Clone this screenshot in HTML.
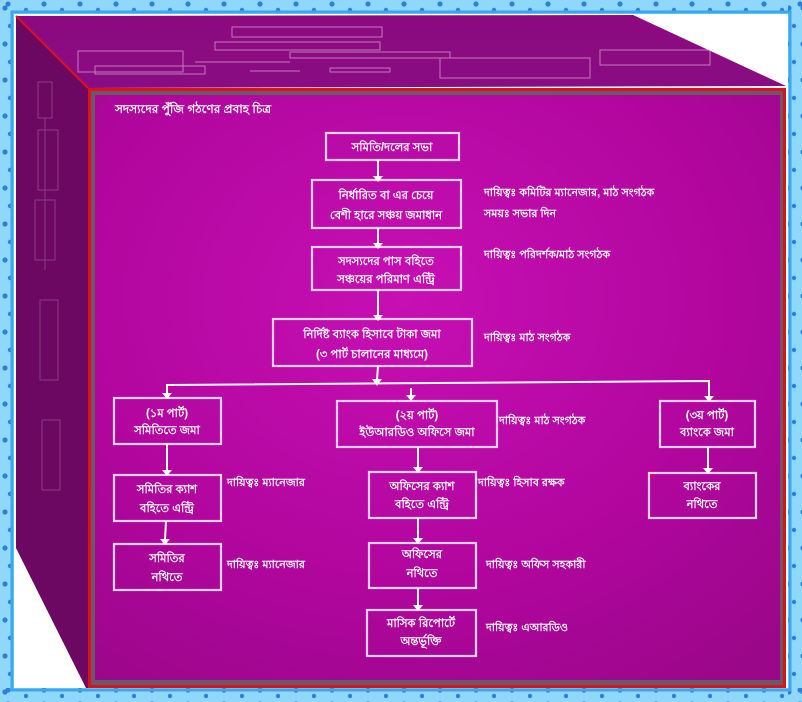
<!DOCTYPE html>
<html><head><meta charset="utf-8"><style>
html,body{margin:0;padding:0;background:#fff}
svg{display:block}
text{font-family:"Liberation Sans","DejaVu Sans",sans-serif;fill:#fff;font-weight:bold}
</style></head><body>
<svg width="802" height="702" viewBox="0 0 802 702" xmlns="http://www.w3.org/2000/svg">
<defs>
<pattern id="dots" width="36" height="14" patternUnits="userSpaceOnUse">
<circle cx="8" cy="4" r="2.6" fill="#2f7fd6"/><circle cx="26" cy="10" r="2.2" fill="#2f7fd6"/>
</pattern>
<pattern id="dotsv" width="14" height="36" patternUnits="userSpaceOnUse">
<circle cx="5" cy="8" r="2.6" fill="#2f7fd6"/><circle cx="10" cy="26" r="2.2" fill="#2f7fd6"/>
</pattern>
<radialGradient id="front" cx="0.45" cy="0.35" r="0.8">
<stop offset="0" stop-color="#c70fb4"/><stop offset="0.6" stop-color="#b1069e"/><stop offset="1" stop-color="#9a0789"/>
</radialGradient>
<linearGradient id="top" x1="0" y1="0" x2="0" y2="1">
<stop offset="0" stop-color="#8c0a80"/><stop offset="1" stop-color="#8a0c82"/>
</linearGradient>
</defs>
<rect x="0" y="0" width="802" height="702" fill="#8fd8fb"/>
<rect x="0" y="0" width="802" height="14" fill="url(#dots)"/>
<rect x="0" y="688" width="802" height="14" fill="url(#dots)"/>
<rect x="0" y="0" width="14" height="702" fill="url(#dotsv)"/>
<rect x="788" y="0" width="14" height="702" fill="url(#dotsv)"/>
<rect x="12" y="12" width="778" height="678" fill="none" stroke="#3aa8ee" stroke-width="3"/>
<rect x="14" y="14" width="774" height="674" fill="#fff"/>
<polygon points="16,16 633,15 786,86 88,88" fill="url(#top)"/>
<polygon points="16,16 88,88 88,688 86,688 16,548" fill="#6c0862"/>
<line x1="16" y1="16" x2="88" y2="88" stroke="#e0101a" stroke-width="2"/>
<g stroke="#e9c4e4" stroke-width="1" fill="none" opacity="0.6">
<rect x="78" y="51" width="105" height="21"/><rect x="95" y="66" width="110" height="8"/>
<rect x="215" y="42" width="165" height="8"/><rect x="232" y="27" width="150" height="10"/>
<rect x="290" y="52" width="160" height="6"/><rect x="330" y="68" width="60" height="4"/>
<rect x="440" y="58" width="150" height="20"/><rect x="600" y="50" width="110" height="15"/>
<line x1="195" y1="62" x2="290" y2="62"/><line x1="250" y1="71" x2="300" y2="71"/>
</g>
<g stroke="#d8b0d4" stroke-width="1" fill="none" opacity="0.3">
<rect x="38" y="82" width="14" height="36"/><rect x="38" y="130" width="20" height="60"/>
<line x1="45" y1="118" x2="45" y2="270"/><rect x="35" y="200" width="20" height="60"/>
<rect x="40" y="300" width="18" height="80"/><rect x="42" y="420" width="18" height="70"/>
</g>
<rect x="88" y="88" width="698" height="600" fill="#e0101a"/>
<rect x="91" y="91" width="692" height="594" fill="#6a5a68"/>
<rect x="95" y="95" width="685" height="585" fill="url(#front)"/>
<text x="115" y="113" font-size="12">সদস্যদের পুঁজি গঠণের প্রবাহ চিত্র</text>
<g stroke="#f6d2f0" stroke-width="2.2" fill="none">
<rect x="326" y="133" width="133" height="27"/>
<rect x="312" y="180" width="149" height="48"/>
<rect x="312" y="247" width="149" height="43"/>
<rect x="273" y="319" width="199" height="47"/>
<rect x="114" y="398" width="107" height="46"/>
<rect x="337" y="401" width="160" height="46"/>
<rect x="660" y="401" width="95" height="46"/>
<rect x="114" y="475" width="107" height="46"/>
<rect x="114" y="544" width="107" height="46"/>
<rect x="369" y="472" width="107" height="46"/>
<rect x="369" y="543" width="107" height="45"/>
<rect x="367" y="610" width="109" height="46"/>
<rect x="649" y="473" width="107" height="45"/>
</g>
<g stroke="#fff" stroke-width="2" fill="none">
<line x1="378" y1="160" x2="378" y2="176"/>
<line x1="378" y1="228" x2="378" y2="243"/>
<line x1="378" y1="290" x2="378" y2="315"/>
<line x1="378" y1="366" x2="377" y2="380"/>
<polyline points="167,394 167,385 709,381 709,397"/>
<line x1="411" y1="388" x2="411" y2="396"/>
<line x1="167" y1="444" x2="167" y2="471"/>
<line x1="418" y1="447" x2="418" y2="468"/>
<line x1="708" y1="447" x2="708" y2="469"/>
<line x1="166" y1="521" x2="165" y2="540"/>
<line x1="418" y1="518" x2="418" y2="539"/>
<line x1="418" y1="588" x2="418" y2="606"/>
</g>
<g fill="#fff">
<path d="M373,176 L383,176 L378,182 Z"/><path d="M373,243 L383,243 L378,249 Z"/>
<path d="M373,315 L383,315 L378,321 Z"/><path d="M372,379 L382,379 L377,386 Z"/>
<path d="M162,393 L172,393 L167,399 Z"/><path d="M406,395 L416,395 L411,401 Z"/>
<path d="M704,396 L714,396 L709,402 Z"/><path d="M162,470 L172,470 L167,476 Z"/>
<path d="M413,467 L423,467 L418,473 Z"/><path d="M703,468 L713,468 L708,474 Z"/>
<path d="M160,539 L170,539 L165,545 Z"/><path d="M413,538 L423,538 L418,544 Z"/>
<path d="M413,605 L423,605 L418,611 Z"/>
</g>
<g font-size="11.5" text-anchor="middle">
<text x="392" y="151">সমিতি/দলের সভা</text>
<text x="386" y="199">নির্ধারিত বা এর চেয়ে</text><text x="386" y="219">বেশী হারে সঞ্চয় জমাধান</text>
<text x="386" y="265">সদস্যদের পাস বহিতে</text><text x="386" y="283">সঞ্চয়ের পরিমাণ এন্ট্রি</text>
<text x="372" y="338">নির্দিষ্ট ব্যাংক হিসাবে টাকা জমা</text><text x="372" y="358">(৩ পার্ট চালানের মাধ্যমে)</text>
<text x="167" y="417">(১ম পার্ট)</text><text x="167" y="434">সমিতিতে জমা</text>
<text x="417" y="419">(২য় পার্ট)</text><text x="417" y="436">ইউআরডিও অফিসে জমা</text>
<text x="707" y="419">(৩য় পার্ট)</text><text x="707" y="436">ব্যাংকে জমা</text>
<text x="167" y="493">সমিতির ক্যাশ</text><text x="167" y="512">বহিতে এন্ট্রি</text>
<text x="167" y="562">সমিতির</text><text x="167" y="581">নথিতে</text>
<text x="422" y="490">অফিসের ক্যাশ</text><text x="422" y="508">বহিতে এন্ট্রি</text>
<text x="422" y="558">অফিসের</text><text x="422" y="577">নথিতে</text>
<text x="421" y="627">মাসিক রিপোর্টে</text><text x="421" y="645">অন্তর্ভূক্তি</text>
<text x="702" y="490">ব্যাংকের</text><text x="702" y="508">নথিতে</text>
</g>
<g font-size="11">
<text x="484" y="196">দায়িত্বঃ কমিটির ম্যানেজার, মাঠ সংগঠক</text>
<text x="484" y="217">সময়ঃ সভার দিন</text>
<text x="484" y="258">দায়িত্বঃ পরিদর্শক/মাঠ সংগঠক</text>
<text x="484" y="341">দায়িত্বঃ মাঠ সংগঠক</text>
<text x="499" y="424">দায়িত্বঃ মাঠ সংগঠক</text>
<text x="227" y="486">দায়িত্বঃ ম্যানেজার</text>
<text x="478" y="486">দায়িত্বঃ হিসাব রক্ষক</text>
<text x="227" y="568">দায়িত্বঃ ম্যানেজার</text>
<text x="486" y="568">দায়িত্বঃ অফিস সহকারী</text>
<text x="486" y="631">দায়িত্বঃ এআরডিও</text>
</g>
</svg>
</body></html>
